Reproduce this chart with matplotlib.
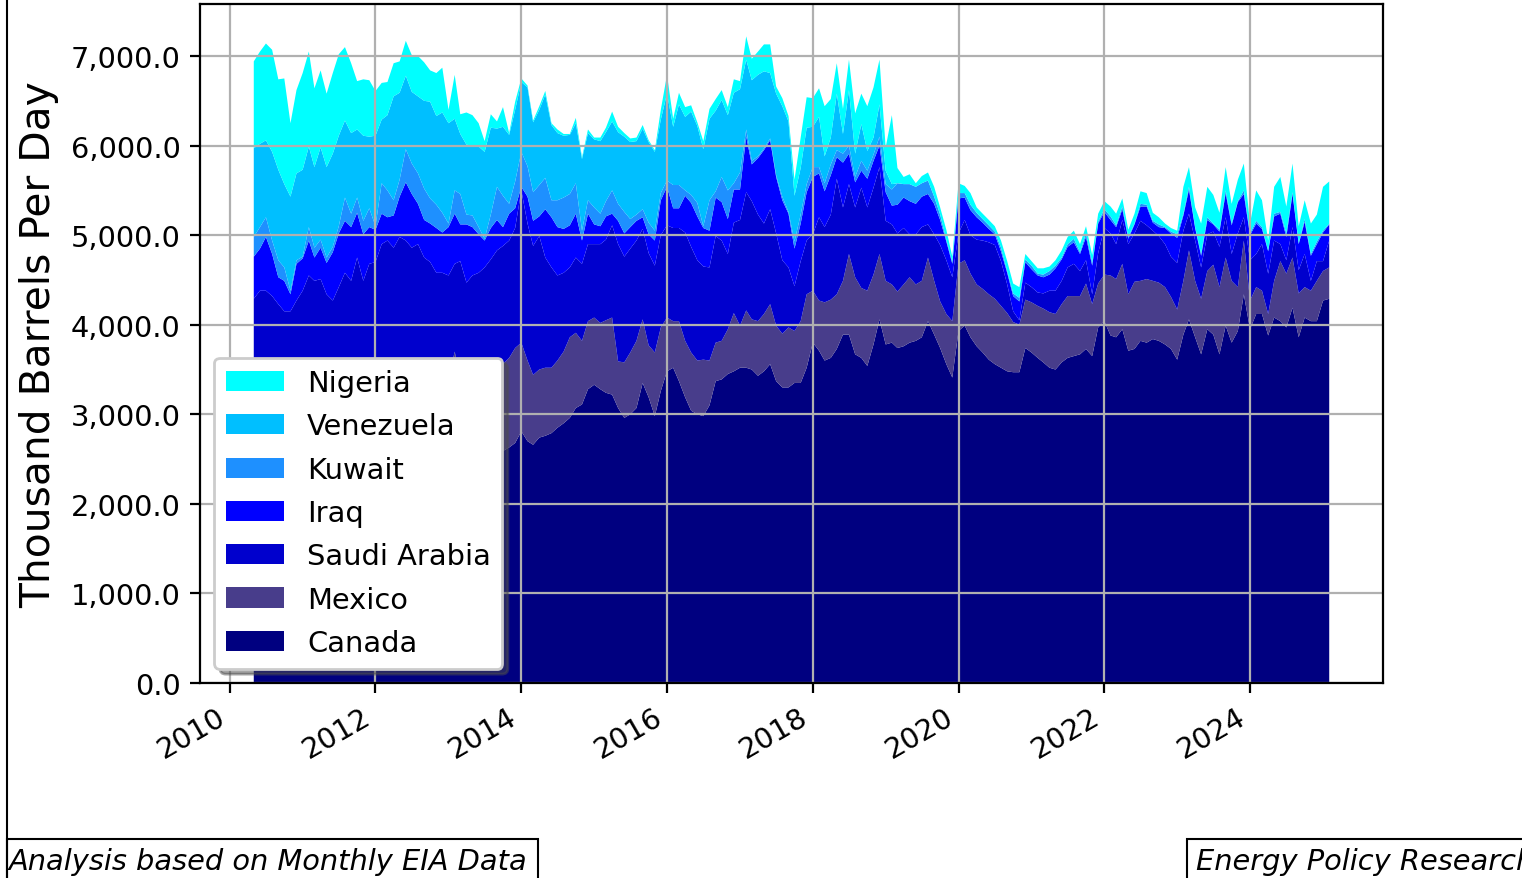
"""
Stacked area chart of US crude oil imports by country of origin,
rebuilt from monthly EIA figures (thousand barrels per day).
"""
import matplotlib

matplotlib.use("Agg")
import matplotlib.pyplot as plt
import matplotlib.dates as mdates
import matplotlib.ticker as mticker
from matplotlib.lines import Line2D
from matplotlib.patches import Rectangle
import pandas as pd

# Monthly imports, May 2010 to February 2025 (one row per calendar year)
canada = [
    1980, 2010, 1950, 1990, 1930, 2040, 2080, 2010,
    2120, 2090, 2150, 2060, 2180, 2140, 2200, 2120, 2230, 2180, 2260, 2290,
    2330, 2250, 2380, 2300, 2410, 2360, 2440, 2400, 2470, 2390, 2510, 2440,
    2480, 2560, 2470, 2540, 2500, 2590, 2530, 2610, 2560, 2590, 2630, 2680,
    2810, 2700, 2660, 2740, 2760, 2790, 2850, 2900, 2960, 3070, 3110, 3280,
    3330, 3280, 3240, 3220, 3070, 2960, 3000, 3070, 3350, 3190, 2980, 3260,
    3480, 3520, 3370, 3190, 3040, 3000, 2980, 3100, 3370, 3390, 3450, 3480,
    3520, 3520, 3500, 3430, 3480, 3560, 3370, 3300, 3300, 3350, 3350, 3520,
    3800, 3710, 3600, 3630, 3730, 3890, 3890, 3670, 3630, 3540, 3780, 4060,
    3780, 3800, 3740, 3760, 3800, 3820, 3860, 4040, 3890, 3740, 3560, 3410,
    3930, 3990, 3860, 3760, 3690, 3610, 3560, 3520, 3480, 3470, 3470, 3740,
    3690, 3630, 3580, 3520, 3500, 3580, 3630, 3650, 3670, 3730, 3650, 3970,
    4040, 3880, 3860, 3950, 3710, 3730, 3820, 3800, 3840, 3820, 3780, 3730,
    3610, 3890, 4060, 3860, 3670, 3950, 3890, 3670, 3990, 3800, 3930, 4340,
    3950, 4120, 4120, 3880, 4080, 4040, 3970, 4190, 3860, 4080, 4040, 4040,
    4270, 4290,
]
mexico = [
    1250, 1200, 1180, 1230, 1150, 1110, 1170, 1120,
    1080, 1160, 1110, 1060, 1130, 1090, 1040, 1100, 1060, 1010, 980, 1050,
    990, 1030, 960, 1000, 940, 980, 1010, 950, 920, 980, 910, 950,
    900, 1140, 930, 880, 950, 900, 870, 920, 940, 970, 1000, 1060,
    990, 900, 780, 760, 760, 730, 750, 800, 900, 840, 710, 760,
    750, 740, 810, 860, 520, 620, 690, 750, 710, 580, 710, 710,
    600, 520, 670, 630, 650, 600, 630, 500, 430, 430, 500, 650,
    470, 640, 560, 610, 640, 670, 620, 600, 670, 580, 690, 820,
    580, 560, 650, 650, 610, 600, 900, 860, 780, 840, 780, 730,
    710, 650, 630, 690, 730, 630, 630, 710, 600, 520, 560, 630,
    750, 730, 710, 690, 710, 730, 730, 690, 650, 560, 530, 540,
    560, 580, 600, 620, 620, 650, 690, 670, 650, 730, 580, 490,
    520, 670, 650, 730, 630, 750, 670, 710, 650, 650, 640, 580,
    560, 600, 770, 630, 620, 650, 780, 750, 760, 690, 490, 600,
    320, 300, 260, 240, 410, 670, 600, 560, 490, 340, 340, 450,
    330, 350,
]
saudi_arabia = [
    1060, 1170, 1250, 1100, 1150, 1000, 900, 1140,
    1180, 1300, 1230, 1390, 1030, 1040, 1180, 1360, 1200, 1560, 1250, 1340,
    1380, 1620, 1600, 1560, 1630, 1600, 1410, 1550, 1360, 1330, 1160, 1190,
    1170, 980, 1310, 1050, 1100, 1090, 1240, 1200, 1330, 1320, 1310, 1340,
    1700, 1530, 1440, 1490, 1230, 1120, 950, 880, 780, 840, 860, 860,
    820, 880, 900, 1030, 1310, 1180, 1160, 1120, 1010, 1030, 970, 1030,
    1030, 1040, 1040, 1210, 1180, 1120, 1040, 1040, 1190, 1120, 840, 1010,
    1180, 1320, 1320, 1190, 1010, 1060, 1030, 820, 670, 500, 670, 600,
    630, 930, 840, 950, 1290, 820, 780, 780, 1120, 930, 970, 970,
    670, 670, 650, 630, 480, 560, 600, 370, 520, 630, 600, 490,
    340, 450, 430, 500, 540, 580, 600, 500, 320, 120, 50, 190,
    170, 150, 170, 240, 260, 260, 320, 360, 280, 260, 110, 340,
    520, 470, 390, 490, 560, 540, 670, 600, 560, 520, 480, 450,
    520, 560, 410, 450, 350, 410, 370, 450, 450, 300, 600, 260,
    450, 370, 520, 450, 450, 190, 150, 340, 260, 370, 110, 220,
    110, 300,
]
iraq = [
    470, 470, 600, 470, 300, 340, 190, 410,
    360, 390, 260, 350, 350, 540, 600, 580, 600, 500, 520, 410,
    360, 340, 260, 360, 450, 650, 600, 450, 420, 430, 500, 450,
    540, 560, 410, 650, 540, 430, 300, 350, 340, 210, 300, 220,
    40, 300, 280, 220, 540, 560, 540, 490, 470, 490, 260, 340,
    220, 200, 260, 130, 260, 260, 240, 220, 130, 210, 280, 390,
    430, 220, 220, 410, 490, 490, 430, 410, 430, 430, 390, 370,
    340, 620, 410, 630, 820, 770, 630, 670, 600, 420, 420, 540,
    640, 490, 400, 440, 240, 500, 340, 280, 190, 320, 300, 240,
    320, 210, 320, 340, 370, 340, 340, 340, 340, 280, 210, 150,
    390, 250, 280, 250, 200, 150, 120, 110, 130, 170, 210, 230,
    200, 190, 180, 180, 250, 240, 230, 240, 190, 260, 320, 330,
    180, 150, 190, 120, 60, 100, 160, 210, 90, 100, 180, 260,
    280, 170, 270, 140, 130, 160, 80, 170, 270, 320, 350, 260,
    280, 340, 170, 250, 270, 340, 260, 370, 290, 360, 280, 190,
    320, 180,
]
kuwait = [
    220, 240, 220, 150, 190, 150, 40, 40,
    20, 150, 110, 90, 60, 60, 80, 260, 150, 170, 150, 210,
    40, 340, 300, 170, 190, 370, 340, 340, 350, 280, 260, 220,
    40, 260, 340, 110, 130, 80, 20, 150, 370, 350, 110, 300,
    390, 340, 320, 350, 350, 190, 300, 350, 350, 340, 110, 150,
    190, 140, 170, 260, 190, 240, 90, 70, 90, 130, 110, 80,
    70, 260, 260, 60, 90, 150, 20, 340, 70, 280, 320, 70,
    190, 80, 40, 20, 20, 20, 20, 40, 20, 80, 100, 90,
    110, 70, 90, 120, 80, 100, 90, 60, 110, 90, 70, 100,
    90, 180, 240, 150, 190, 190, 150, 150, 80, 60, 20, 20,
    60, 50, 60, 50, 40, 40, 30, 40, 20, 30, 40, 30,
    40, 20, 30, 40, 30, 20, 30, 40, 20, 40, 30, 20,
    30, 40, 20, 30, 20, 10, 30, 20, 20, 30, 10, 20,
    40, 20, 30, 10, 20, 30, 10, 20, 30, 20, 10, 40,
    20, 30, 20, 10, 30, 20, 40, 20, 10, 30, 20, 30,
    20, 10,
]
venezuela = [
    990, 930, 860, 990, 1010, 930, 1050, 970,
    970, 900, 900, 1030, 1010, 1040, 1010, 860, 900, 760, 950, 800,
    1010, 710, 840, 1160, 970, 820, 800, 860, 980, 1080, 990, 1120,
    1120, 800, 670, 780, 780, 900, 970, 970, 650, 770, 770, 800,
    780, 880, 780, 840, 930, 840, 750, 690, 660, 670, 800, 750,
    760, 810, 770, 770, 800, 840, 860, 820, 900, 900, 880, 820,
    970, 650, 900, 820, 930, 860, 860, 910, 900, 860, 840, 1010,
    930, 780, 900, 910, 860, 730, 910, 1010, 1010, 510, 520, 630,
    450, 560, 300, 300, 630, 220, 620, 260, 410, 220, 190, 360,
    150, 60, 0, 0, 0, 0, 0, 0, 0, 0, 0, 0,
    0, 0, 0, 0, 0, 0, 0, 0, 0, 0, 0, 0,
    0, 0, 0, 0, 0, 0, 0, 0, 0, 0, 0, 0,
    0, 0, 0, 0, 0, 0, 0, 0, 0, 0, 0, 0,
    0, 0, 0, 0, 0, 0, 0, 0, 0, 0, 0, 0,
    0, 0, 0, 0, 0, 0, 0, 0, 0, 0, 0, 0,
    0, 0,
]
nigeria = [
    970, 1030, 1080, 1140, 1010, 1180, 820, 930,
    1080, 1060, 880, 860, 820, 900, 910, 820, 780, 540, 630, 630,
    500, 410, 370, 370, 350, 390, 410, 450, 430, 350, 480, 500,
    150, 490, 220, 360, 340, 260, 120, 150, 80, 220, 20, 90,
    40, 20, 20, 40, 40, 20, 40, 20, 10, 60, 20, 40,
    20, 40, 50, 110, 60, 40, 40, 40, 40, 20, 20, 110,
    210, 90, 130, 110, 70, 40, 90, 110, 130, 110, 90, 150,
    90, 260, 240, 260, 300, 320, 80, 90, 60, 180, 340, 340,
    320, 320, 560, 430, 340, 280, 340, 450, 340, 500, 560, 500,
    260, 770, 170, 80, 110, 40, 80, 90, 110, 80, 110, 60,
    110, 80, 130, 60, 60, 60, 60, 80, 110, 110, 120, 60,
    50, 60, 70, 50, 60, 80, 80, 90, 90, 80, 90, 90,
    90, 110, 130, 90, 80, 110, 140, 130, 90, 80, 40, 40,
    40, 300, 220, 220, 340, 340, 320, 190, 260, 220, 240, 300,
    110, 340, 300, 110, 300, 390, 300, 320, 190, 210, 340, 300,
    490, 470,
]

countries = ["Canada", "Mexico", "Saudi Arabia", "Iraq", "Kuwait", "Venezuela", "Nigeria"]
colors = ["navy", "darkslateblue", "mediumblue", "blue", "dodgerblue", "deepskyblue", "cyan"]

W, H = 1522, 879  # output size in pixels


def plot_imports():
    """
    Draws the stacked monthly imports per country and saves out.png
    """
    plt.rcParams["font.size"] = 10.4
    dates = pd.date_range("2010-05-01", "2025-02-01", freq="MS")
    series = [canada, mexico, saudi_arabia, iraq, kuwait, venezuela, nigeria]

    fig = plt.figure(figsize=(W / 200, H / 200), dpi=200)
    ax = fig.add_axes([200 / W, 1 - 684 / H, 1183 / W, 679 / H])

    ax.stackplot(dates, *series, labels=countries, colors=colors)
    ax.grid(True)

    # Legend lists the top layer first
    handles, labels = ax.get_legend_handles_labels()
    ax.legend(handles[::-1], labels[::-1], loc="lower left", shadow=True,
              labelspacing=0.53)

    ax.set_ylabel("Thousand Barrels Per Day", fontsize=14.7)
    ax.yaxis.set_major_formatter(mticker.FuncFormatter(lambda v, pos: f"{v:,.1f}"))
    ax.xaxis.set_major_locator(mdates.YearLocator(2))
    ax.xaxis.set_major_formatter(mdates.DateFormatter("%Y"))
    plt.setp(ax.get_xticklabels(), rotation=30, ha="right")

    # Source notes in framed boxes along the bottom edge
    for left, right in [(7, 538), (1187, W + 20)]:
        fig.add_artist(Rectangle((left / W, -0.05), (right - left) / W, 0.05 + 1 - 840 / H,
                                 transform=fig.transFigure, facecolor="white",
                                 edgecolor="black", linewidth=0.75))
    fig.text(9 / W, 1 - 870 / H, "Analysis based on Monthly EIA Data",
             style="italic", va="baseline")
    fig.text(1196 / W, 1 - 870 / H, "Energy Policy Research Foundation",
             style="italic", va="baseline")
    fig.add_artist(Line2D([7 / W, 7 / W], [0, 1], color="black", linewidth=0.75))

    fig.savefig("out.png", dpi=200)


plot_imports()
